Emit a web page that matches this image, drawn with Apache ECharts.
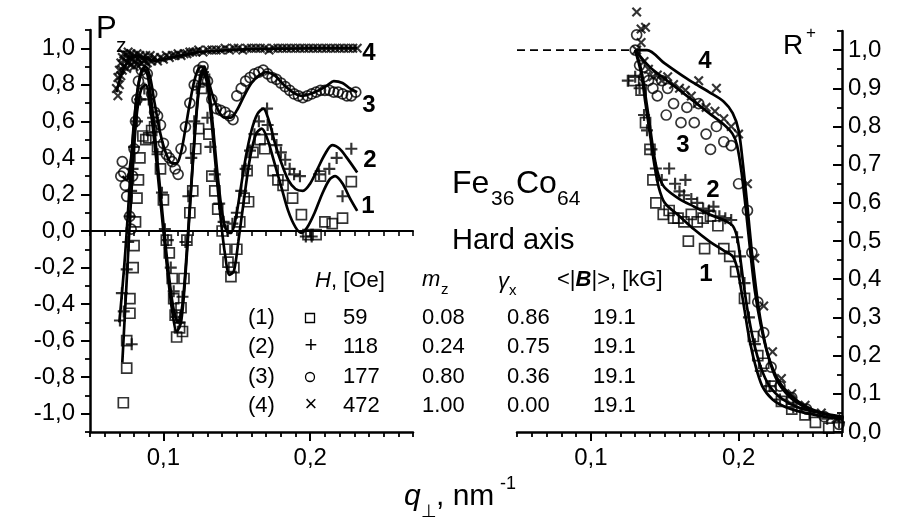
<!DOCTYPE html>
<html>
<head>
<meta charset="utf-8">
<title>Fe36Co64 hard axis</title>
<script src="https://cdn.jsdelivr.net/npm/echarts@6/dist/echarts.min.js"></script>
<style>
  html, body { margin: 0; padding: 0; background: #fff; }
  #chart { width: 902px; height: 523px; }
</style>
</head>
<body>
<div id="chart"></div>
<script>
// tick labels
const qTicks = [0.1, 0.2];
const pzTicks = [-1.0, -0.8, -0.6, -0.4, -0.2, 0.0, 0.2, 0.4, 0.6, 0.8, 1.0];
const rTicks = [0.0, 0.1, 0.2, 0.3, 0.4, 0.5, 0.6, 0.7, 0.8, 0.9, 1.0];

// table in the middle
const rowIds = ['(1)', '(2)', '(3)', '(4)'];
const fieldH = ['59', '118', '177', '472'];
const mz = ['0.08', '0.24', '0.80', '1.00'];
const gammaX = ['0.86', '0.75', '0.36', '0.00'];
const meanB = ['19.1', '19.1', '19.1', '19.1'];

// ---- left panel: P_z vs q ----
const fitP1 = [[0.072,-0.72],[0.074,-0.42],[0.076,-0.12],[0.078,0.18],[0.080,0.45],[0.082,0.65],[0.085,0.78],[0.088,0.80],[0.091,0.68],[0.094,0.48],[0.097,0.24],[0.100,0.0],[0.103,-0.24],[0.106,-0.44],[0.109,-0.55],[0.112,-0.50],[0.115,-0.24],[0.118,0.12],[0.121,0.48],[0.124,0.76],[0.127,0.87],[0.130,0.80],[0.133,0.58],[0.136,0.32],[0.139,0.07],[0.142,-0.13],[0.145,-0.24],[0.148,-0.22],[0.151,-0.06],[0.155,0.18],[0.159,0.40],[0.163,0.53],[0.167,0.56],[0.171,0.50],[0.175,0.39],[0.180,0.25],[0.185,0.11],[0.190,0.02],[0.194,-0.01],[0.198,0.02],[0.203,0.10],[0.208,0.20],[0.213,0.28],[0.217,0.30],[0.222,0.26],[0.227,0.18],[0.232,0.11]];
const fitP2 = [[0.070,-0.50],[0.072,-0.32],[0.074,-0.12],[0.076,0.12],[0.078,0.38],[0.080,0.60],[0.083,0.80],[0.086,0.89],[0.089,0.86],[0.092,0.70],[0.095,0.46],[0.098,0.21],[0.101,-0.04],[0.104,-0.26],[0.107,-0.43],[0.110,-0.50],[0.113,-0.40],[0.116,-0.10],[0.119,0.26],[0.122,0.60],[0.125,0.84],[0.128,0.90],[0.131,0.78],[0.134,0.55],[0.137,0.30],[0.140,0.10],[0.143,0.0],[0.146,-0.01],[0.149,0.06],[0.152,0.20],[0.156,0.40],[0.160,0.55],[0.164,0.64],[0.168,0.67],[0.172,0.60],[0.176,0.48],[0.180,0.38],[0.185,0.28],[0.190,0.23],[0.195,0.22],[0.200,0.26],[0.205,0.34],[0.210,0.42],[0.215,0.47],[0.220,0.45],[0.225,0.40],[0.232,0.32]];
const fitP3 = [[0.072,0.30],[0.075,0.28],[0.078,0.40],[0.080,0.58],[0.082,0.75],[0.085,0.87],[0.088,0.90],[0.091,0.84],[0.094,0.70],[0.098,0.53],[0.102,0.42],[0.106,0.37],[0.109,0.37],[0.112,0.43],[0.115,0.56],[0.118,0.70],[0.121,0.82],[0.124,0.89],[0.127,0.90],[0.130,0.84],[0.134,0.73],[0.138,0.65],[0.142,0.62],[0.146,0.62],[0.150,0.66],[0.155,0.74],[0.160,0.81],[0.165,0.85],[0.170,0.87],[0.176,0.85],[0.182,0.80],[0.188,0.76],[0.194,0.74],[0.200,0.75],[0.206,0.77],[0.212,0.80],[0.216,0.82],[0.222,0.81],[0.227,0.78],[0.232,0.76]];
const fitP4 = [[0.068,0.76],[0.070,0.82],[0.072,0.87],[0.075,0.92],[0.078,0.95],[0.082,0.96],[0.086,0.95],[0.090,0.94],[0.095,0.93],[0.100,0.94],[0.106,0.95],[0.112,0.96],[0.118,0.97],[0.125,0.98],[0.135,0.985],[0.145,0.99],[0.160,0.995],[0.180,0.998],[0.200,1.0],[0.232,1.0]];

const ptsP1 = [[0.0727,-0.94],[0.0750,-0.75],[0.0750,-0.60],[0.0772,-0.45],[0.0772,-0.37],[0.0794,-0.20],[0.080,-0.08],[0.081,0.05],[0.082,0.18],[0.083,0.28],[0.084,0.40],[0.086,0.52],[0.088,0.50],[0.090,0.51],[0.092,0.55],[0.094,0.57],[0.096,0.46],[0.098,0.34],[0.100,0.17],[0.102,-0.05],[0.104,-0.12],[0.106,-0.26],[0.107,-0.37],[0.108,-0.46],[0.109,-0.58],[0.111,-0.53],[0.112,-0.42],[0.113,-0.55],[0.114,-0.26],[0.116,-0.05],[0.118,0.10],[0.120,0.22],[0.122,0.45],[0.124,0.56],[0.126,0.78],[0.128,0.83],[0.131,0.53],[0.133,0.30],[0.135,0.22],[0.137,0.12],[0.140,0.0],[0.142,-0.10],[0.144,-0.17],[0.146,-0.25],[0.148,-0.20],[0.150,-0.10],[0.152,0.05],[0.155,0.18],[0.157,0.33],[0.158,0.16],[0.161,0.43],[0.1658,0.50],[0.169,0.45],[0.1747,0.33],[0.178,0.28],[0.1815,0.25],[0.188,0.18],[0.194,0.09],[0.1985,-0.02],[0.204,-0.02],[0.207,0.30],[0.210,0.05],[0.215,0.04],[0.222,0.07],[0.228,0.27]];
const ptsP2 = [[0.0704,-0.49],[0.0717,-0.34],[0.073,-0.44],[0.0784,-0.62],[0.075,-0.21],[0.076,-0.06],[0.077,0.08],[0.078,0.22],[0.079,0.34],[0.080,0.46],[0.082,0.60],[0.084,0.72],[0.087,0.78],[0.090,0.72],[0.093,0.62],[0.096,0.42],[0.099,0.21],[0.101,0.01],[0.103,-0.05],[0.105,-0.20],[0.107,-0.33],[0.109,-0.47],[0.111,-0.50],[0.113,-0.36],[0.115,-0.06],[0.117,0.19],[0.119,0.40],[0.121,0.60],[0.124,0.79],[0.127,0.87],[0.130,0.62],[0.132,0.46],[0.135,0.31],[0.138,0.15],[0.141,0.05],[0.144,0.0],[0.147,0.04],[0.150,0.10],[0.153,0.22],[0.156,0.34],[0.159,0.44],[0.162,0.53],[0.165,0.60],[0.1706,0.67],[0.171,0.58],[0.174,0.53],[0.177,0.47],[0.180,0.43],[0.183,0.39],[0.186,0.34],[0.189,0.31],[0.193,0.30],[0.197,-0.03],[0.201,-0.03],[0.206,0.31],[0.213,0.34],[0.218,0.40],[0.222,0.19],[0.228,0.45]];
const ptsP3 = [[0.071,0.30],[0.072,0.38],[0.073,0.32],[0.074,0.25],[0.075,0.19],[0.077,0.08],[0.078,0.01],[0.079,0.30],[0.080,0.45],[0.081,0.60],[0.082,0.72],[0.083,0.82],[0.085,0.88],[0.087,0.90],[0.089,0.86],[0.092,0.75],[0.094,0.65],[0.096,0.63],[0.098,0.58],[0.100,0.48],[0.102,0.42],[0.104,0.40],[0.106,0.38],[0.108,0.34],[0.110,0.31],[0.112,0.45],[0.115,0.57],[0.118,0.70],[0.121,0.80],[0.124,0.88],[0.127,0.90],[0.130,0.82],[0.133,0.72],[0.136,0.67],[0.139,0.66],[0.142,0.65],[0.145,0.63],[0.1474,0.61],[0.150,0.74],[0.153,0.78],[0.156,0.82],[0.159,0.84],[0.162,0.86],[0.165,0.87],[0.168,0.88],[0.171,0.86],[0.174,0.84],[0.177,0.83],[0.180,0.81],[0.183,0.79],[0.186,0.77],[0.189,0.75],[0.192,0.74],[0.195,0.73],[0.198,0.74],[0.201,0.75],[0.204,0.76],[0.207,0.77],[0.210,0.77],[0.213,0.77],[0.216,0.76],[0.219,0.76],[0.222,0.75],[0.225,0.74],[0.228,0.74],[0.231,0.76]];
const ptsP4 = [[0.068,0.78],[0.069,0.84],[0.069,0.74],[0.070,0.88],[0.070,0.80],[0.071,0.92],[0.071,0.85],[0.072,0.95],[0.072,0.88],[0.073,0.97],[0.073,0.90],[0.074,0.93],[0.075,0.96],[0.075,0.89],[0.076,0.98],[0.076,0.92],[0.077,0.95],[0.078,0.97],[0.078,0.91],[0.079,0.94],[0.080,0.96],[0.080,0.90],[0.081,0.93],[0.082,0.97],[0.082,0.91],[0.083,0.94],[0.084,0.96],[0.085,0.92],[0.086,0.95],[0.087,0.93],[0.088,0.96],[0.089,0.92],[0.090,0.94],[0.091,0.96],[0.092,0.93],[0.094,0.95],[0.096,0.93],[0.098,0.95],[0.100,0.94],[0.102,0.96],[0.104,0.95],[0.106,0.96],[0.108,0.96],[0.110,0.97],[0.112,0.96],[0.114,0.97],[0.116,0.97],[0.118,0.98],[0.120,0.98],[0.122,0.98],[0.124,0.99],[0.127,0.98],[0.130,0.99],[0.133,0.99],[0.136,0.99],[0.139,0.99],[0.142,1.0],[0.145,0.99],[0.148,1.0],[0.151,1.0],[0.154,0.99],[0.157,1.0],[0.160,1.0],[0.163,1.0],[0.166,1.0],[0.169,1.0],[0.172,0.99],[0.175,1.0],[0.178,1.0],[0.181,1.0],[0.184,1.0],[0.187,1.0],[0.190,1.0],[0.193,1.0],[0.196,1.0],[0.199,1.0],[0.202,1.0],[0.205,1.0],[0.208,1.0],[0.211,1.0],[0.214,1.0],[0.217,1.0],[0.220,1.0],[0.223,1.0],[0.226,1.0],[0.229,1.0],[0.232,1.0]];

// ---- right panel: R+ vs q ----
const fitR1 = [[0.130,1.0],[0.134,0.94],[0.137,0.86],[0.140,0.78],[0.143,0.70],[0.146,0.64],[0.150,0.60],[0.160,0.565],[0.170,0.53],[0.180,0.50],[0.190,0.475],[0.196,0.46],[0.199,0.43],[0.201,0.39],[0.204,0.32],[0.207,0.25],[0.211,0.18],[0.216,0.12],[0.223,0.085],[0.232,0.065],[0.245,0.05],[0.258,0.04],[0.271,0.032]];
const fitR2 = [[0.130,1.0],[0.134,0.95],[0.137,0.88],[0.140,0.80],[0.143,0.72],[0.146,0.67],[0.150,0.64],[0.160,0.61],[0.170,0.59],[0.180,0.57],[0.190,0.555],[0.196,0.54],[0.199,0.51],[0.201,0.46],[0.203,0.40],[0.206,0.32],[0.210,0.24],[0.215,0.17],[0.221,0.12],[0.230,0.085],[0.240,0.065],[0.255,0.05],[0.271,0.04]];
const fitR3 = [[0.130,1.0],[0.140,0.955],[0.150,0.925],[0.160,0.895],[0.170,0.865],[0.180,0.835],[0.190,0.805],[0.196,0.78],[0.199,0.75],[0.202,0.68],[0.205,0.58],[0.208,0.47],[0.211,0.37],[0.215,0.28],[0.220,0.20],[0.227,0.135],[0.237,0.09],[0.249,0.06],[0.261,0.045],[0.271,0.037]];
const fitR4 = [[0.130,1.0],[0.138,1.0],[0.150,0.965],[0.165,0.925],[0.180,0.89],[0.190,0.865],[0.196,0.835],[0.200,0.79],[0.203,0.70],[0.206,0.59],[0.209,0.47],[0.212,0.37],[0.215,0.29],[0.220,0.20],[0.226,0.135],[0.235,0.09],[0.245,0.065],[0.258,0.047],[0.271,0.037]];
const dashR = [[0.05,1.0],[0.128,1.0]];

const ptsR1 = [[0.129,0.92],[0.134,0.895],[0.137,0.81],[0.140,0.74],[0.142,0.66],[0.144,0.60],[0.149,0.57],[0.153,0.58],[0.156,0.56],[0.159,0.56],[0.163,0.55],[0.168,0.57],[0.172,0.55],[0.176,0.56],[0.181,0.565],[0.186,0.54],[0.166,0.50],[0.177,0.48],[0.190,0.48],[0.194,0.46],[0.198,0.42],[0.204,0.35],[0.210,0.25],[0.213,0.20],[0.217,0.18],[0.222,0.12],[0.229,0.08],[0.236,0.06],[0.245,0.045],[0.252,0.025],[0.261,0.01]];
const ptsR2 = [[0.125,0.92],[0.130,0.93],[0.133,0.90],[0.136,0.83],[0.138,0.79],[0.141,0.74],[0.144,0.69],[0.148,0.66],[0.153,0.69],[0.157,0.65],[0.160,0.63],[0.164,0.66],[0.163,0.62],[0.168,0.61],[0.172,0.60],[0.176,0.585],[0.180,0.58],[0.183,0.59],[0.187,0.565],[0.191,0.56],[0.195,0.555],[0.199,0.51],[0.201,0.46],[0.204,0.39],[0.207,0.30],[0.211,0.23],[0.215,0.16],[0.221,0.12],[0.228,0.085],[0.237,0.065],[0.248,0.05],[0.260,0.035],[0.268,0.025]];
const ptsR3 = [[0.131,1.04],[0.130,1.0],[0.133,0.96],[0.136,0.93],[0.139,0.92],[0.142,0.90],[0.145,0.88],[0.148,0.92],[0.152,0.90],[0.151,0.83],[0.156,0.86],[0.161,0.81],[0.165,0.85],[0.170,0.81],[0.173,0.86],[0.178,0.78],[0.181,0.74],[0.185,0.80],[0.190,0.76],[0.195,0.75],[0.200,0.65],[0.206,0.58],[0.209,0.47],[0.213,0.34],[0.217,0.26],[0.222,0.17],[0.228,0.12],[0.236,0.09],[0.246,0.06],[0.258,0.04],[0.268,0.02]];
const ptsR4 = [[0.131,1.10],[0.134,1.055],[0.137,1.06],[0.131,1.0],[0.134,1.02],[0.136,0.97],[0.139,0.95],[0.142,0.93],[0.145,0.935],[0.148,0.92],[0.152,0.93],[0.156,0.91],[0.160,0.90],[0.164,0.895],[0.168,0.88],[0.173,0.92],[0.185,0.90],[0.172,0.86],[0.178,0.85],[0.184,0.84],[0.190,0.82],[0.195,0.80],[0.200,0.78],[0.206,0.65],[0.211,0.455],[0.217,0.33],[0.223,0.21],[0.229,0.14],[0.236,0.10],[0.245,0.07],[0.256,0.05],[0.266,0.035]];

const FONT = '"Liberation Sans", "DejaVu Sans", sans-serif';
const BLACK = '#000';
const comma = v => v.toFixed(1).replace('.', ',');
const PLUS = 'path://M4.1,0H5.9V4.1H10V5.9H5.9V10H4.1V5.9H0V4.1H4.1Z';

const marker = {
  square: { symbol: 'rect', size: 10, rotate: 0, style: { color: 'transparent', borderColor: BLACK, borderWidth: 1.7 } },
  plus: { symbol: PLUS, size: 12, rotate: 0, style: { color: BLACK } },
  circle: { symbol: 'circle', size: 10, rotate: 0, style: { color: 'transparent', borderColor: BLACK, borderWidth: 1.7 } },
  cross: { symbol: PLUS, size: 12, rotate: 45, style: { color: BLACK } }
};

// minor ticks + axis line
function minorAxis(grid, min, max, interval, pos, inside) {
  return {
    gridIndex: grid, type: 'value', min: min, max: max, interval: interval, position: pos,
    axisLine: { show: true, onZero: false, lineStyle: { color: BLACK, width: 2.5 } },
    axisTick: { show: true, inside: !!inside, length: 5, lineStyle: { color: BLACK, width: 1.8 } },
    axisLabel: { show: false }, splitLine: { show: false }
  };
}
// long ticks with labels
function majorAxis(grid, min, max, ticks, pos, inside, margin) {
  return {
    gridIndex: grid, type: 'value', min: min, max: max, position: pos,
    axisLine: { show: false, onZero: false },
    axisTick: { show: true, inside: !!inside, length: 9, customValues: ticks, lineStyle: { color: BLACK, width: 2 } },
    axisLabel: { show: true, customValues: ticks, formatter: comma, margin: margin,
      fontSize: 24, fontFamily: FONT, color: BLACK },
    splitLine: { show: false }
  };
}

function fit(data, xi, yi) {
  return { type: 'line', xAxisIndex: xi, yAxisIndex: yi, data: data, smooth: 0.3,
    showSymbol: false, silent: true, z: 3, lineStyle: { color: BLACK, width: 2.7 } };
}
function pts(data, xi, yi, mk) {
  return { type: 'scatter', xAxisIndex: xi, yAxisIndex: yi, data: data, clip: false,
    symbol: mk.symbol, symbolSize: mk.size, symbolRotate: mk.rotate, itemStyle: mk.style, z: 2 };
}

function txt(x, y, text, size, extra, align) {
  return { type: 'text', x: x, y: y, silent: true,
    style: { text: text, fill: BLACK, fontFamily: FONT, fontSize: size,
      fontStyle: (extra && extra.italic) ? 'italic' : 'normal',
      fontWeight: (extra && extra.bold) ? 'bold' : 'normal',
      align: align || 'left', verticalAlign: 'middle' } };
}

const graphics = [
  txt(96, 29, 'P', 31), txt(116, 46, 'z', 21),
  txt(783, 46, 'R', 28), txt(806, 33, '+', 17),
  // curve numbers
  txt(369, 53, '4', 24, { bold: 1 }, 'center'), txt(369, 105, '3', 24, { bold: 1 }, 'center'),
  txt(370, 160, '2', 24, { bold: 1 }, 'center'), txt(368, 206, '1', 24, { bold: 1 }, 'center'),
  txt(705, 61, '4', 24, { bold: 1 }, 'center'), txt(683, 145, '3', 24, { bold: 1 }, 'center'),
  txt(713, 190, '2', 24, { bold: 1 }, 'center'), txt(706, 274, '1', 24, { bold: 1 }, 'center'),
  // sample
  txt(452, 184, 'Fe', 32), txt(491, 199, '36', 21),
  txt(516, 184, 'Co', 32), txt(557, 199, '64', 21),
  txt(452, 241, 'Hard axis', 29),
  // axis title
  txt(404, 497, 'q', 30, { italic: 1 }), txt(421, 512, '\u22a5', 18),
  txt(436, 497, ', nm', 30), txt(500, 484, '-1', 18),
  // table header
  txt(315, 281, 'H', 22, { italic: 1 }), txt(331, 281, ', [Oe]', 22),
  txt(422, 280, 'm', 22, { italic: 1 }), txt(441, 290, 'z', 15),
  txt(498, 282, '\u03b3', 22, { italic: 1 }), txt(509, 291, 'x', 15),
  {
    type: 'text', x: 557, y: 280, silent: true,
    style: { text: '<|{b|B}|>, [kG]', fill: BLACK, fontFamily: FONT, fontSize: 22, verticalAlign: 'middle',
      rich: { b: { fontFamily: FONT, fontSize: 22, fontStyle: 'italic', fontWeight: 'bold', fill: BLACK } } }
  },
  // legend symbols
  { type: 'rect', silent: true, shape: { x: 305.5, y: 313.5, width: 9, height: 9 },
    style: { fill: 'none', stroke: BLACK, lineWidth: 1.3 } },
  txt(311, 346, '+', 22, null, 'center'),
  { type: 'circle', silent: true, shape: { cx: 310, cy: 377, r: 4.5 },
    style: { fill: 'none', stroke: BLACK, lineWidth: 1.3 } },
  txt(311, 405, '\u00d7', 22, null, 'center')
];
const rowY = [318, 347, 377, 406];
rowY.forEach(function (y, i) {
  graphics.push(txt(248, y, rowIds[i], 22));
  graphics.push(txt(343, y, fieldH[i], 22));
  graphics.push(txt(422, y, mz[i], 22));
  graphics.push(txt(507, y, gammaX[i], 22));
  graphics.push(txt(593, y, meanB[i], 22));
});

const chart = echarts.init(document.getElementById('chart'), null, { renderer: 'canvas' });
chart.setOption({
  animation: false,
  backgroundColor: '#fff',
  grid: [
    { left: 90, top: 30, width: 323, height: 402 },
    { left: 517, top: 31, width: 325, height: 401 }
  ],
  xAxis: [
    minorAxis(0, 0.05, 0.27, 0.01, 'bottom'),
    majorAxis(0, 0.05, 0.27, qTicks, 'bottom', false, 14),
    // P_z = 0 line with ticks
    {
      gridIndex: 0, type: 'value', min: 0.05, max: 0.27, interval: 0.01, position: 'bottom',
      axisLine: { show: true, onZero: true, onZeroAxisIndex: 0, lineStyle: { color: BLACK, width: 2 } },
      axisTick: { show: true, length: 5, lineStyle: { color: BLACK, width: 1.6 } },
      axisLabel: { show: false }, splitLine: { show: false }
    },
    minorAxis(1, 0.05, 0.27, 0.01, 'bottom'),
    majorAxis(1, 0.05, 0.27, qTicks, 'bottom', false, 14)
  ],
  yAxis: [
    minorAxis(0, -1.1, 1.1, 0.1, 'left'),
    majorAxis(0, -1.1, 1.1, pzTicks, 'left', false, 15),
    minorAxis(1, 0, 1.05, 0.05, 'right', true),
    majorAxis(1, 0, 1.05, rTicks, 'right', true, 6)
  ],
  series: [
    fit(fitP1, 0, 0), fit(fitP2, 0, 0), fit(fitP3, 0, 0), fit(fitP4, 0, 0),
    pts(ptsP1, 0, 0, marker.square), pts(ptsP2, 0, 0, marker.plus),
    pts(ptsP3, 0, 0, marker.circle), pts(ptsP4, 0, 0, marker.cross),
    fit(fitR1, 3, 2), fit(fitR2, 3, 2), fit(fitR3, 3, 2), fit(fitR4, 3, 2),
    pts(ptsR1, 3, 2, marker.square), pts(ptsR2, 3, 2, marker.plus),
    pts(ptsR3, 3, 2, marker.circle), pts(ptsR4, 3, 2, marker.cross),
    { type: 'line', xAxisIndex: 3, yAxisIndex: 2, data: dashR, showSymbol: false, silent: true,
      lineStyle: { color: BLACK, width: 1.8, type: [8, 5] } }
  ],
  graphic: graphics
});
</script>
</body>
</html>
